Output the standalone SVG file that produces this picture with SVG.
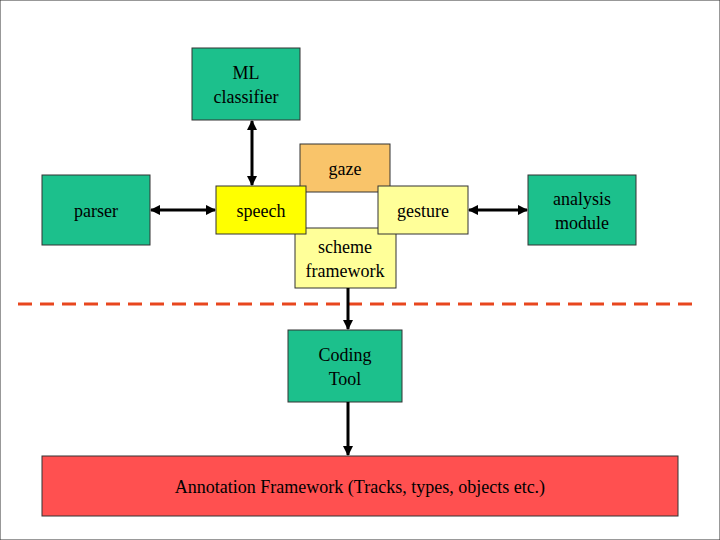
<svg xmlns="http://www.w3.org/2000/svg" width="720" height="540" viewBox="0 0 720 540">
<style>
rect{stroke:#333;stroke-width:1}
text{font-family:"Liberation Serif",serif;font-size:18px;fill:#000;text-anchor:middle}
.g{fill:#1cc08c}
.c{stroke:#000;stroke-width:3;fill:none}
</style>
<defs>
<marker id="a" viewBox="0 0 10 10" refX="9" refY="5" markerWidth="3.5" markerHeight="3.5" orient="auto-start-reverse"><path d="M0,0L10,5L0,10z" fill="#000"/></marker>
</defs>
<rect width="720" height="540" fill="#fff" stroke="none"/>
<g id="ml"><rect class="g" x="192" y="48" width="108" height="72"/><text x="246" y="79">ML</text><text x="246" y="103">classifier</text></g>
<g id="parser"><rect class="g" x="42" y="175" width="108" height="70"/><text x="96" y="217">parser</text></g>
<g id="analysis"><rect class="g" x="528" y="175" width="108" height="70"/><text x="582" y="205">analysis</text><text x="582" y="229">module</text></g>
<g id="gaze"><rect x="300" y="144" width="90" height="48" fill="#f9c46a"/><text x="345" y="175">gaze</text></g>
<g id="scheme"><rect x="295" y="228" width="101" height="60" fill="#ffff99"/><text x="345" y="253">scheme</text><text x="345" y="277">framework</text></g>
<g id="speech"><rect x="216" y="186" width="90" height="48" fill="#ffff00"/><text x="261" y="217">speech</text></g>
<g id="gesture"><rect x="378" y="186" width="90" height="48" fill="#ffff99"/><text x="423" y="217">gesture</text></g>
<g id="coding"><rect class="g" x="288" y="330" width="114" height="72"/><text x="345" y="361">Coding</text><text x="345" y="385">Tool</text></g>
<g id="annotation"><rect x="42" y="456" width="636" height="60" fill="#ff5050"/><text x="360" y="493">Annotation Framework (Tracks, types, objects etc.)</text></g>
<line x1="18" y1="304" x2="700" y2="304" stroke="#e8461e" stroke-width="3" stroke-dasharray="14,8"/>
<g id="connectors">
<line class="c" x1="252" y1="121" x2="252" y2="185" marker-start="url(#a)" marker-end="url(#a)"/>
<line class="c" x1="151" y1="210" x2="215" y2="210" marker-start="url(#a)" marker-end="url(#a)"/>
<line class="c" x1="469" y1="210" x2="527" y2="210" marker-start="url(#a)" marker-end="url(#a)"/>
<line class="c" x1="348" y1="288" x2="348" y2="329" marker-end="url(#a)"/>
<line class="c" x1="348" y1="402" x2="348" y2="455" marker-end="url(#a)"/>
</g>
</svg>
